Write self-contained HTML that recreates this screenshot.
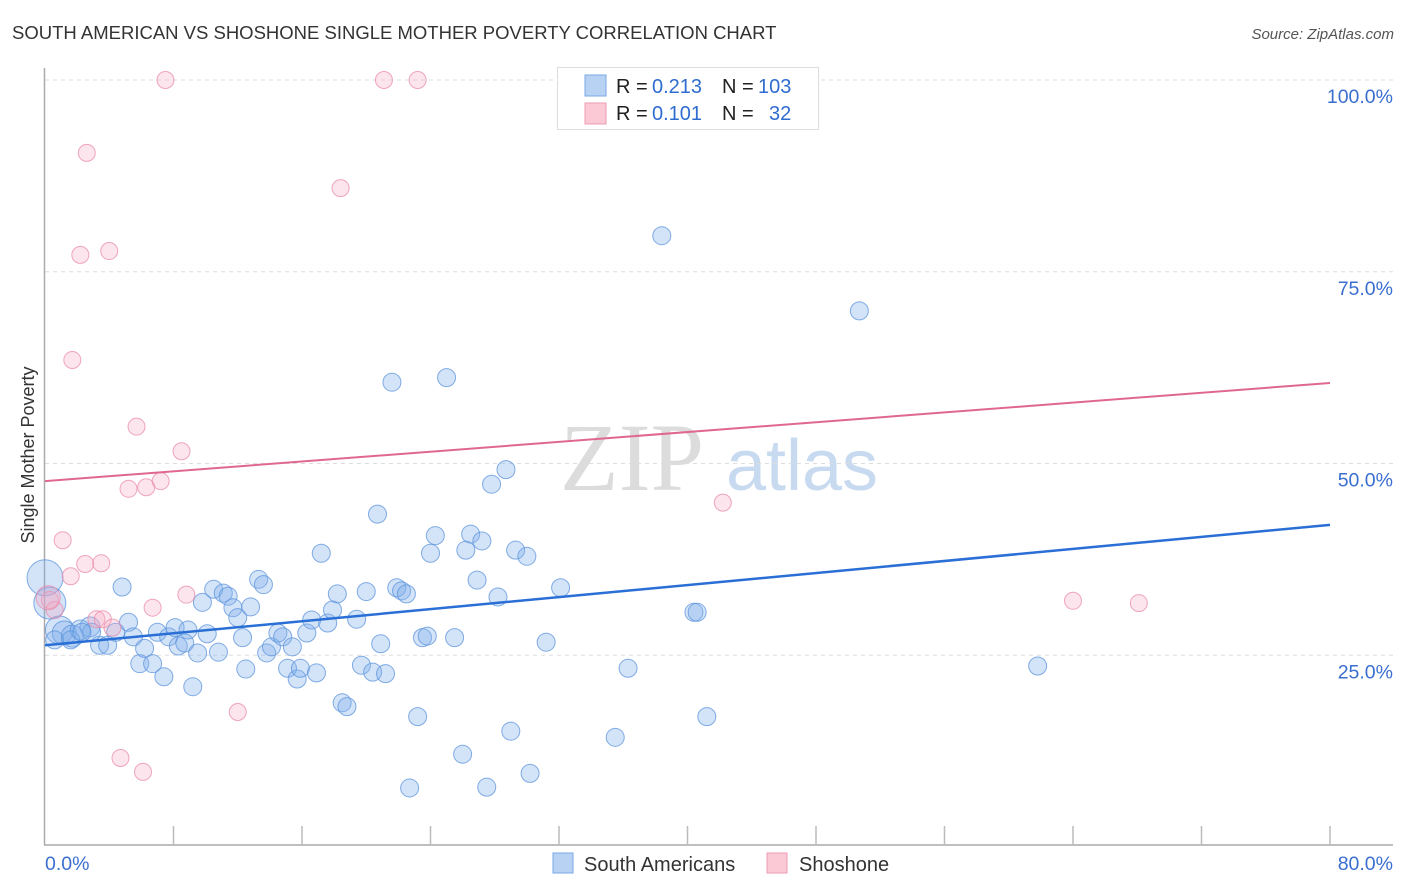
<!DOCTYPE html>
<html><head><meta charset="utf-8"><style>
body{margin:0;background:#fff;font-family:"Liberation Sans",sans-serif;}
#c{position:relative;width:1406px;height:892px;overflow:hidden;}
</style></head><body>
<div id="c">
<svg id="s" width="1406" height="892" xmlns="http://www.w3.org/2000/svg">
<text x="12" y="39" font-size="18.5" fill="#333">SOUTH AMERICAN VS SHOSHONE SINGLE MOTHER POVERTY CORRELATION CHART</text>
<text x="1394" y="39" font-size="15" fill="#555" font-style="italic" text-anchor="end">Source: ZipAtlas.com</text>
<text x="34" y="455" font-size="18" fill="#333" text-anchor="middle" transform="rotate(-90 34 455)">Single Mother Poverty</text>
<g>
<text x="632" y="490" font-size="96" font-family="Liberation Serif,serif" fill="#dcdcdc" text-anchor="middle">ZIP</text>
<text x="802" y="490" font-size="72" fill="#c8daf0" text-anchor="middle">atlas</text>
</g>
<g id="grid"></g><g id="axes"></g><g id="pts"></g><g id="trend"></g>
<g>
<rect x="557.5" y="67.5" width="261" height="62" fill="#fff" stroke="#ddd"/>
<rect x="585" y="75" width="21" height="21" fill="#b8d2f4" stroke="#7aa8e6"/>
<rect x="585" y="103" width="21" height="21" fill="#fbc8d6" stroke="#ee9db4"/>
<text y="93" font-size="20"><tspan x="616" fill="#222">R = </tspan><tspan x="652" fill="#2f6cd0">0.213</tspan><tspan x="722" fill="#222">N = </tspan><tspan x="758" fill="#2f6cd0">103</tspan></text>
<text y="120" font-size="20"><tspan x="616" fill="#222">R = </tspan><tspan x="652" fill="#2f6cd0">0.101</tspan><tspan x="722" fill="#222">N = </tspan><tspan x="769" fill="#2f6cd0">32</tspan></text>
</g>
<g>
<rect x="553" y="853" width="20" height="20" fill="#b8d2f4" stroke="#7aa8e6"/>
<text x="584" y="871" font-size="20" fill="#333">South Americans</text>
<rect x="767" y="853" width="20" height="20" fill="#fbc8d6" stroke="#ee9db4"/>
<text x="799" y="871" font-size="20" fill="#333">Shoshone</text>
</g>
</svg>
</div>
<script>
const yTicks=[25,50,75,100];
const yTickLabels=["25.0%","50.0%","75.0%","100.0%"];
const xTicks=[0,8,16,24,32,40,48,56,64,72,80];
const blueX=[0,0.3,0.9,1.2,1.7,2.2,2.8,3.4,3.9,4.4,4.8,5.2,5.5,5.9,6.2,6.7,7.0,7.4,7.7,8.1,8.3,8.7,8.9,9.2,9.5,9.8,10.1,10.5,10.8,11.1,11.4,11.7,12.0,12.3,12.5,12.8,13.3,13.6,13.8,14.1,14.5,14.8,15.1,15.4,15.7,15.9,16.3,16.6,16.9,17.2,17.6,17.9,18.2,18.5,18.8,19.4,19.7,20.0,20.4,20.7,20.9,21.2,21.6,21.9,22.2,22.5,22.7,23.2,23.5,23.8,24.0,24.3,25.0,25.5,26.0,26.2,26.5,26.9,27.2,27.5,27.8,28.2,28.7,29.0,29.3,30.0,30.2,31.2,32.1,35.5,36.3,38.4,40.4,40.6,41.2,50.7,61.8,0.6,1.6,2.9,2.3];
const blueY=[35.1,31.8,28.3,27.9,27.5,28.3,28.7,26.3,26.3,28.0,33.9,29.3,27.4,23.9,25.9,23.9,28.0,22.2,27.4,28.6,26.2,26.6,28.3,20.9,25.3,31.9,27.8,33.6,25.4,33.1,32.7,31.2,29.9,27.3,23.2,31.3,34.9,34.2,25.3,26.1,27.9,27.4,23.3,26.1,21.9,23.3,27.9,29.6,22.7,38.3,29.2,30.9,33.0,18.8,18.3,29.7,23.7,33.3,22.8,43.4,26.5,22.6,60.6,33.8,33.4,33.0,7.7,17.0,27.3,27.5,38.3,40.6,61.2,27.3,12.1,38.7,40.8,34.8,39.9,7.8,47.3,32.6,49.2,15.1,38.7,37.9,9.6,26.7,33.8,14.3,23.3,79.7,30.6,30.6,17.0,69.9,23.6,27.0,27.0,28.0,28.0];
const blueSize=[18,16,14,12,11,10,10];
const pinkX=[7.5,21.1,23.2,36.9,2.6,18.4,2.2,4.0,1.7,5.7,8.5,5.2,6.3,7.2,1.1,2.5,3.5,1.6,0.3,0.6,3.2,3.6,6.7,8.8,4.2,12.0,4.7,6.1,42.2,64.0,68.1,0.2];
const pinkY=[100,100,100,100,90.5,85.9,77.2,77.7,63.5,54.8,51.6,46.7,46.9,47.7,40.0,36.9,37.0,35.3,32.2,30.9,29.7,29.7,31.2,32.9,28.6,17.6,11.6,9.8,44.9,32.1,31.8,32.5];
const blueTrend=[26.3,42.0];
const pinkTrend=[47.7,60.5];
const NS="http://www.w3.org/2000/svg";
const X0=45,X1=1330,Y0=847,Y100=80;
const sx=v=>X0+(X1-X0)*v/80, sy=v=>Y0-(Y0-Y100)*v/100;
function mk(t,a,p){const e=document.createElementNS(NS,t);for(const k in a)e.setAttribute(k,a[k]);p.appendChild(e);return e;}
const g=document.getElementById('grid'),ax=document.getElementById('axes'),pts=document.getElementById('pts'),tr=document.getElementById('trend');
yTicks.forEach((t,i)=>{
 const l=mk('line',{x1:X0,x2:1393,y1:sy(t),y2:sy(t),stroke:'#ddd','stroke-dasharray':'4,4'},g);
 
 
 const tx=mk('text',{x:1393,y:sy(t)+23,'font-size':19.5,fill:'#3a6fd0','text-anchor':'end'},ax);
 tx.textContent=yTickLabels[i];
 
 
});
let a=mk('line',{x1:X0-0.5,x2:X0-0.5,y1:68,y2:845,stroke:'#aaa','stroke-width':1.5},ax);


a=mk('line',{x1:X0-1,x2:1393,y1:845,y2:845,stroke:'#aaa','stroke-width':1.5},ax);


xTicks.forEach(t=>{if(t===0)return;
 const l=mk('line',{x1:sx(t),x2:sx(t),y1:826,y2:845,stroke:'#bbb','stroke-width':1.5},ax);
 
 
});
let t0=mk('text',{x:45,y:870,'font-size':19.5,fill:'#3a6fd0'},ax);t0.textContent='0.0%';


let t1=mk('text',{x:1393,y:870,'font-size':19.5,fill:'#3a6fd0','text-anchor':'end'},ax);t1.textContent='80.0%';


blueX.forEach((v,i)=>{
 const c=mk('circle',{cx:sx(v),cy:sy(blueY[i]),r:blueSize[i]||9,fill:'rgba(130,175,235,0.35)',stroke:'#5b93dc','stroke-opacity':0.75,'stroke-width':1},pts);
 
 
});
pinkX.forEach((v,i)=>{
 const c=mk('circle',{cx:sx(v),cy:sy(pinkY[i]),r:i===pinkX.length-1?12:8.5,fill:'rgba(245,170,195,0.3)',stroke:'#e98aa8','stroke-opacity':0.75,'stroke-width':1},pts);
 
 
});
let b=mk('line',{x1:sx(0),x2:sx(80),y1:sy(blueTrend[0]),y2:sy(blueTrend[1]),stroke:'#2a6fd6','stroke-width':2.5},tr);


let p=mk('line',{x1:sx(0),x2:sx(80),y1:sy(pinkTrend[0]),y2:sy(pinkTrend[1]),stroke:'#e06890','stroke-width':2},tr);


</script>
</body></html>
